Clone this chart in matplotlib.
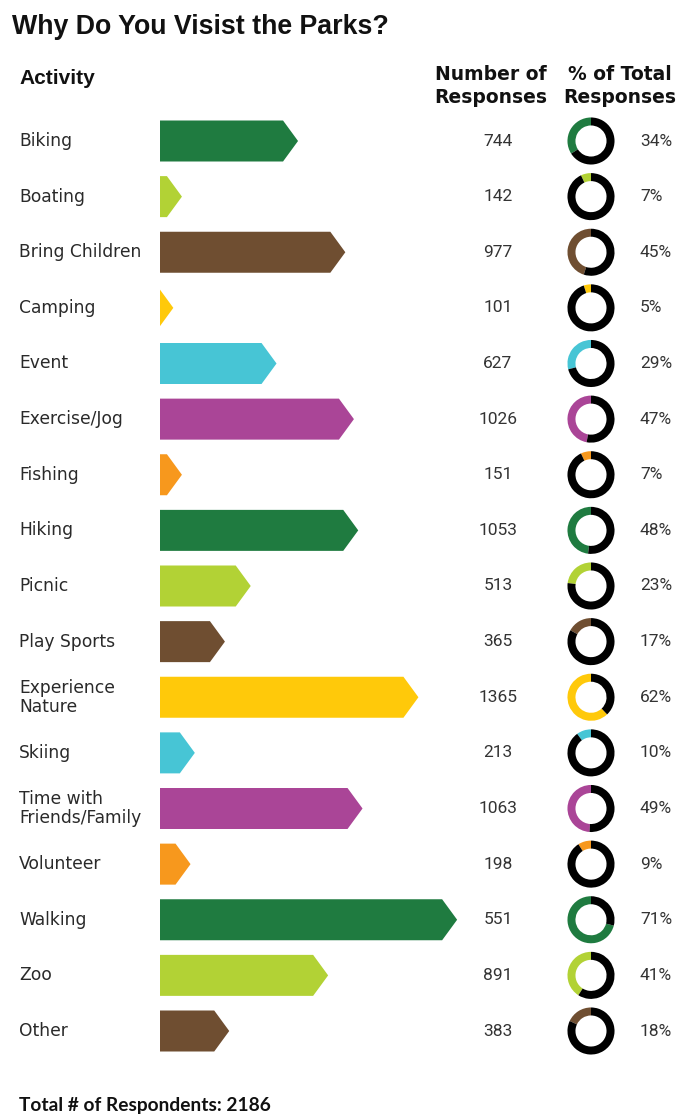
import matplotlib
matplotlib.use("Agg")
import matplotlib.pyplot as plt
from matplotlib.patches import Polygon

# ---- data ----
activities = ["Biking", "Boating", "Bring Children", "Camping", "Event",
              "Exercise/Jog", "Fishing", "Hiking", "Picnic", "Play Sports",
              "Experience\nNature", "Skiing", "Time with\nFriends/Family",
              "Volunteer", "Walking", "Zoo", "Other"]
responses = ["744", "142", "977", "101", "627", "1026", "151", "1053", "513",
             "365", "1365", "213", "1063", "198", "551", "891", "383"]
pct_total = [34, 7, 45, 5, 29, 47, 7, 48, 23, 17, 62, 10, 49, 9, 71, 41, 18]
total_respondents = 2186

palette = ["#1f7b40", "#b2d235", "#6f4e31", "#ffc90a",
           "#47c5d5", "#aa4597", "#f7981d"]
colors = [palette[i % len(palette)] for i in range(len(activities))]

W, H = 680, 1116
fig = plt.figure(figsize=(W / 100, H / 100), dpi=100)
fig.patch.set_facecolor("white")


def fx(px):
    return px / W


def fy(py):
    return 1 - py / H


row_y0, row_step = 141, 55.625          # pixel centre of first row, spacing
n = len(activities)
row_px = [row_y0 + i * row_step for i in range(n)]

# ---- arrow bars ----
bar_left, bar_right = 160, 470
top_px, bot_px = 100, 1072
ax = fig.add_axes([fx(bar_left), fy(bot_px), fx(bar_right - bar_left),
                   (bot_px - top_px) / H])
px_per_unit = 4.3
x0 = 1.9
ax.set_xlim(x0, x0 + (bar_right - bar_left) / px_per_unit)
ax.set_ylim((bot_px - row_y0) / row_step, -(row_y0 - top_px) / row_step)
ax.axis("off")

bar_h = 41 / row_step
tip = 15 / px_per_unit
for i, (v, c) in enumerate(zip(pct_total, colors)):
    poly = Polygon([(0, i - bar_h / 2), (v - tip, i - bar_h / 2), (v, i),
                    (v - tip, i + bar_h / 2), (0, i + bar_h / 2)],
                   closed=True, facecolor=c, edgecolor="none")
    ax.add_patch(poly)

# ---- donuts ----
d_cx, d_size = 591, 48
for i, (v, c) in enumerate(zip(pct_total, colors)):
    cy = row_px[i]
    dax = fig.add_axes([fx(d_cx - d_size / 2), fy(cy + d_size / 2),
                        fx(d_size), d_size / H])
    dax.pie([v, 100 - v], colors=[c, "#000000"], startangle=90,
            counterclock=True, radius=1.0,
            wedgeprops=dict(width=0.34, edgecolor="none"))
    dax.set_xlim(-1.02, 1.02)
    dax.set_ylim(-1.02, 1.02)
    dax.axis("off")

# ---- text ----
fig.text(fx(12), fy(27), "Why Do You Visist the Parks?", fontsize=19.3,
         fontweight="bold", family="Liberation Sans", va="center", ha="left",
         color="#111111")
fig.text(fx(19), fy(78), "Activity", fontsize=15, fontweight="bold",
         family="Liberation Sans", va="center", ha="left", color="#111111")
fig.text(fx(491), fy(86), "Number of\nResponses", fontsize=13.5,
         fontweight="bold", family="DejaVu Sans", va="center", ha="center",
         linespacing=1.3, color="#111111")
fig.text(fx(620), fy(86), "% of Total\nResponses", fontsize=13.5,
         fontweight="bold", family="DejaVu Sans", va="center", ha="center",
         linespacing=1.3, color="#111111")

for i in range(n):
    y = fy(row_px[i])
    fig.text(fx(19), y, activities[i], fontsize=12.3, family="DejaVu Sans",
             va="center", ha="left", linespacing=1.05, color="#2a2a2a")
    fig.text(fx(498), y, responses[i], fontsize=12.5, family="Roboto",
             va="center", ha="center", color="#333333")
    fig.text(fx(640), y, f"{pct_total[i]}%", fontsize=12.5, family="Roboto",
             va="center", ha="left", color="#333333")

fig.text(fx(19), fy(1106), f"Total # of Respondents: {total_respondents}",
         fontsize=13.8, fontweight="bold", family="Lato", va="center",
         ha="left", color="#111111")

fig.savefig("out.png", dpi=100)
